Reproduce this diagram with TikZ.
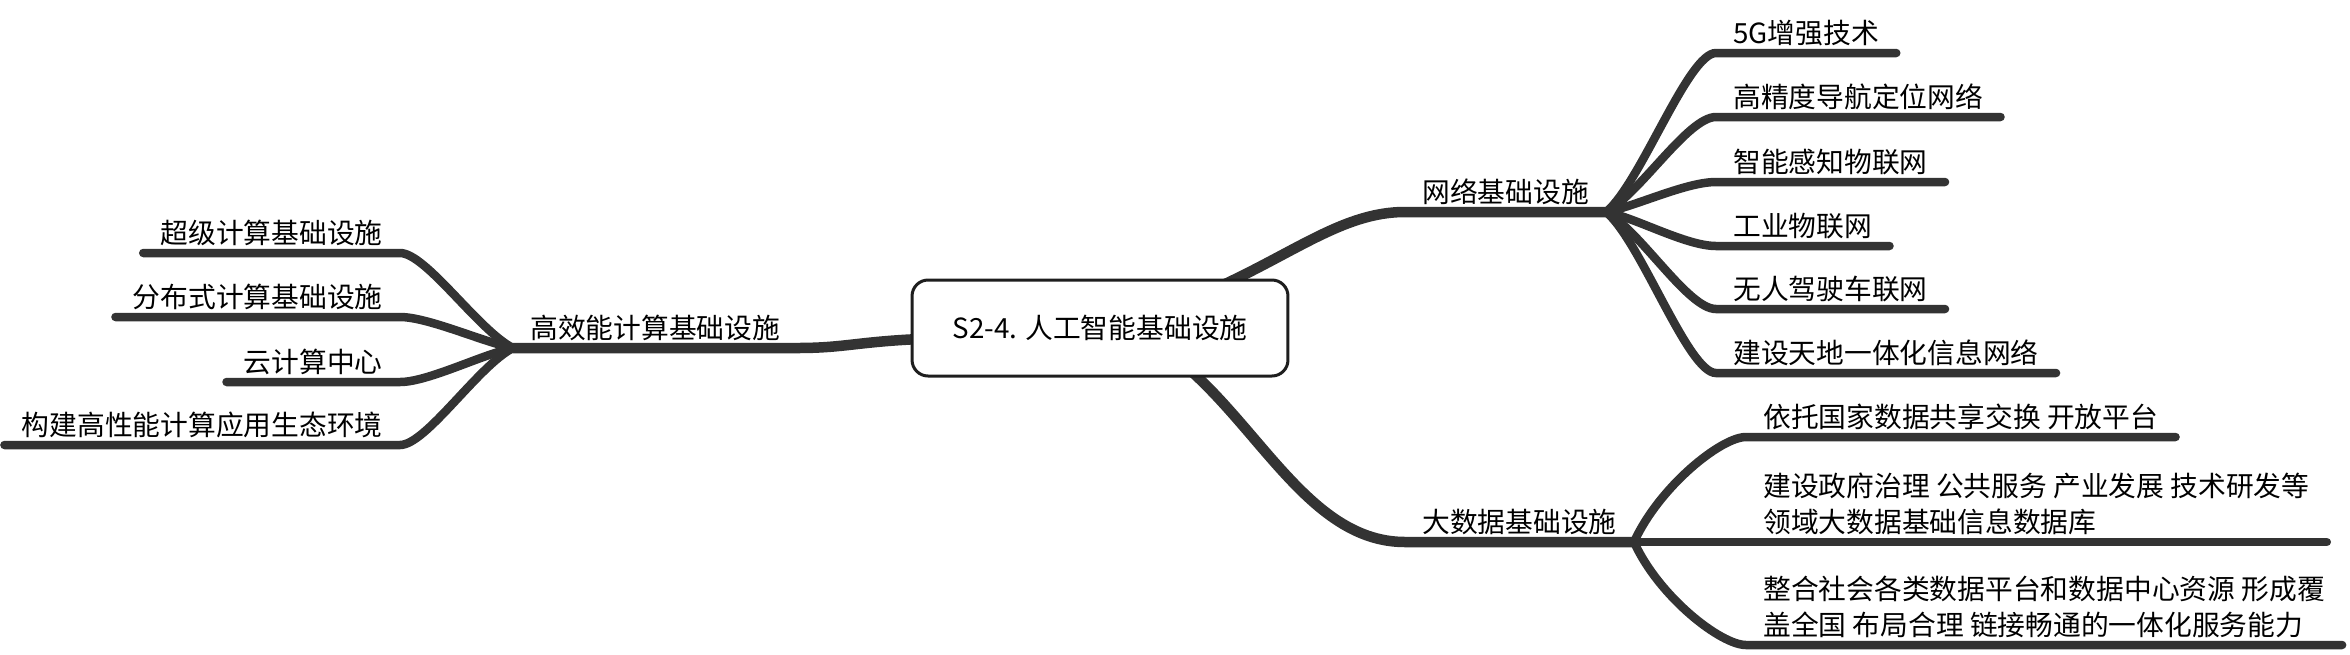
\documentclass[tikz,border=0pt]{standalone}
\usepackage{fontspec}
\newfontfamily\cjkfont{Noto Sans CJK SC}
\usepackage{xcolor}
\definecolor{branch}{HTML}{333333}
\definecolor{frame}{HTML}{1E1E1E}
\usepackage{tikz}
\usetikzlibrary{positioning,calc,backgrounds}
\tikzset{
    topic/.style={draw=frame, fill=white, line width=0.06cm, rounded corners=0.32cm, minimum width=7.52cm, minimum height=1.92cm, font=\cjkfont\fontsize{15.8}{20.5}\selectfont},
    label_node/.style={inner xsep=0.34cm, inner ysep=0.19cm, text depth=0pt, align=left, font=\cjkfont\fontsize{15.8}{20.5}\selectfont, text=black},
    limb/.style={draw=branch, line width=0.21cm, line cap=round},
    twig/.style={draw=branch, line width=0.17cm, line cap=round}
}

\begin{document}
\begin{tikzpicture}[x=0.02cm, y=-0.02cm]

  \useasboundingbox (0,0) rectangle (2350,654);

  % Central topic
  \node[topic] (root) at (1100,328) {S2-4. 人工智能基础设施};

  % Main branches
  \node[label_node, anchor=south west] (net) at (1405,212) {网络基础设施};
  \node[label_node, anchor=south west] (data) at (1405,542) {大数据基础设施};
  \node[label_node, anchor=south west] (hpc) at (513,348) {高效能计算基础设施};

  % Network children
  \node[label_node, anchor=south west] (net_5g) at (1716,53) {5G增强技术};
  \node[label_node, anchor=south west] (net_gps) at (1716,117) {高精度导航定位网络};
  \node[label_node, anchor=south west] (net_iot) at (1716,182) {智能感知物联网};
  \node[label_node, anchor=south west] (net_iiot) at (1716,246) {工业物联网};
  \node[label_node, anchor=south west] (net_v2x) at (1716,309) {无人驾驶车联网};
  \node[label_node, anchor=south west] (net_sat) at (1716,373) {建设天地一体化信息网络};

  % Big data children
  \node[label_node, anchor=south west] (data_share) at (1746,437) {依托国家数据共享交换 开放平台};
  \node[label_node, anchor=south west] (data_gov) at (1746,542) {建设政府治理 公共服务 产业发展 技术研发等\\领域大数据基础信息数据库};
  \node[label_node, anchor=south west] (data_srv) at (1746,645) {整合社会各类数据平台和数据中心资源 形成覆\\盖全国 布局合理 链接畅通的一体化服务能力};

  % Computing children
  \node[label_node, anchor=south east] (hpc_super) at (400,253) {超级计算基础设施};
  \node[label_node, anchor=south east] (hpc_dist) at (400,317) {分布式计算基础设施};
  \node[label_node, anchor=south east] (hpc_cloud) at (400,382) {云计算中心};
  \node[label_node, anchor=south east] (hpc_eco) at (400,445) {构建高性能计算应用生态环境};

  \begin{scope}[on background layer]
    % Root to main branches
    \draw[limb] (root.center) .. controls (1260,290) and (1320,212) .. (net.south west) -- (net.south east);
    \draw[limb] ([shift={(50,12)}]root.center) .. controls (1250,400) and (1300,542) .. (data.south west) -- (data.south east);
    \draw[limb] ([shift={(-150,10)}]root.center) .. controls (860,340) and (850,348) .. (hpc.south east) -- (hpc.south west);

    % Network fan
    \draw[twig] (net.south east) .. controls +(35,-30) and +(-28,0) .. (net_5g.south west) -- (net_5g.south east);
    \draw[twig] (net.south east) .. controls +(35,-20) and +(-28,0) .. (net_gps.south west) -- (net_gps.south east);
    \draw[twig] (net.south east) .. controls +(30,-6) and +(-30,0) .. (net_iot.south west) -- (net_iot.south east);
    \draw[twig] (net.south east) .. controls +(30,6) and +(-30,0) .. (net_iiot.south west) -- (net_iiot.south east);
    \draw[twig] (net.south east) .. controls +(35,20) and +(-28,0) .. (net_v2x.south west) -- (net_v2x.south east);
    \draw[twig] (net.south east) .. controls +(35,30) and +(-28,0) .. (net_sat.south west) -- (net_sat.south east);

    % Big data fan
    \draw[twig] (data.south east) .. controls +(25,-55) and +(-25,0) .. (data_share.south west) -- (data_share.south east);
    \draw[twig] (data.south east) -- (data_gov.south west) -- (data_gov.south east);
    \draw[twig] (data.south east) .. controls +(25,55) and +(-25,0) .. (data_srv.south west) -- (data_srv.south east);

    % Computing fan
    \draw[twig] (hpc.south west) .. controls +(-35,-18) and +(26,0) .. (hpc_super.south east) -- (hpc_super.south west);
    \draw[twig] (hpc.south west) .. controls +(-30,-6) and +(28,0) .. (hpc_dist.south east) -- (hpc_dist.south west);
    \draw[twig] (hpc.south west) .. controls +(-30,6) and +(28,0) .. (hpc_cloud.south east) -- (hpc_cloud.south west);
    \draw[twig] (hpc.south west) .. controls +(-35,18) and +(26,0) .. (hpc_eco.south east) -- (hpc_eco.south west);
  \end{scope}

\end{tikzpicture}
\end{document}
